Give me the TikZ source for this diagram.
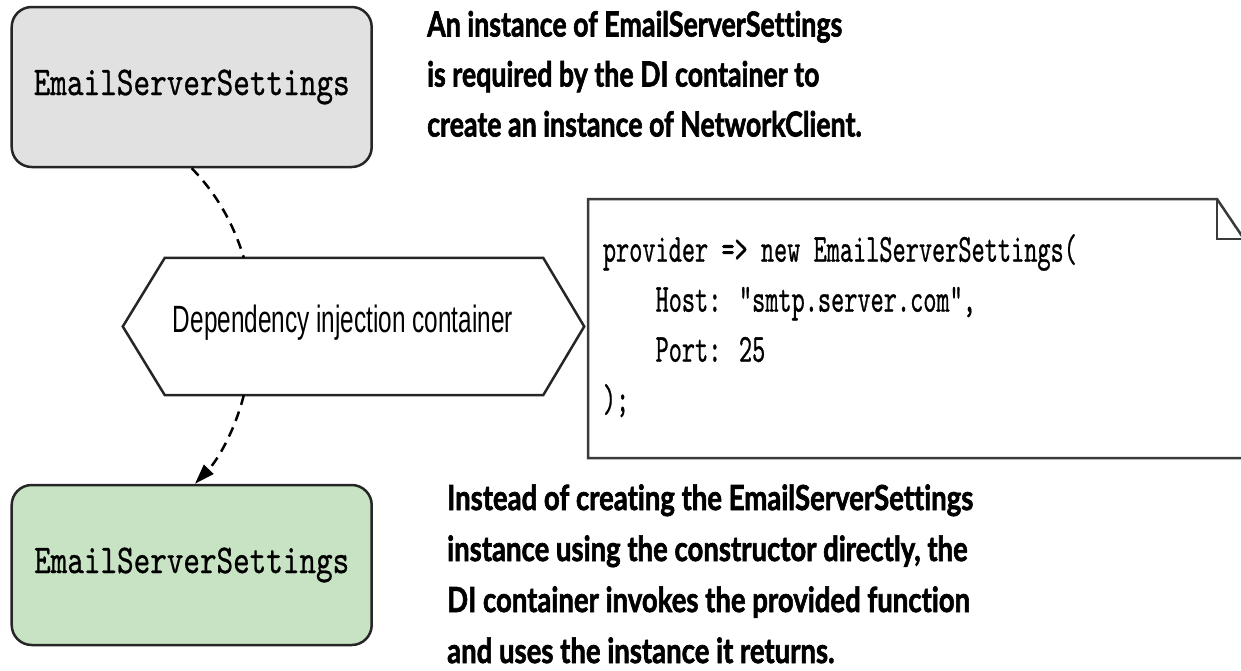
\documentclass[tikz,border=0pt]{standalone}
\usepackage{fontspec}
\usepackage{graphicx}
\usetikzlibrary{arrows.meta}
\newfontfamily\annfont{Lato}[Ligatures=NoCommon, BoldFeatures={FakeBold=2}]
\newfontfamily\hexfont{Liberation Sans}
\newfontfamily\codefont{lmmono10-regular.otf}[FakeBold=0.8]
\definecolor{boxgray}{HTML}{E1E1E1}
\definecolor{boxgreen}{HTML}{C8E3C4}
\definecolor{edgedark}{HTML}{262626}
\definecolor{codeedge}{HTML}{3A3A3A}
\newcommand\annstyle{\annfont\bfseries\fontsize{34.5}{50}\selectfont}
\newcommand\annstyleb{\annfont\bfseries\fontsize{34.5}{51}\selectfont}
\newcommand\boxstyle{\codefont\fontsize{40.9}{45}\selectfont}
\newcommand\codestyle{\codefont\fontsize{39.8}{50}\selectfont}
\newcommand\hexstyle{\hexfont\fontsize{38}{40}\selectfont}
\newlength\mymeasure
\AtBeginDocument{%
\settowidth\mymeasure{\annstyle An instance of EmailServerSettings}%
\pgfmathsetmacro\topsx{415pt/\mymeasure}%
\settowidth\mymeasure{\annstyleb Instead of creating the EmailServerSettings}%
\pgfmathsetmacro\botsx{526pt/\mymeasure}%
\settowidth\mymeasure{\codestyle provider => new EmailServerSettings(}%
\pgfmathsetmacro\codesx{474pt/\mymeasure}%
}
\tikzset{
  classbox/.style={draw=edgedark, line width=2.5pt, rounded corners=20pt,
    minimum width=360pt, minimum height=160pt, inner sep=0pt},
  hexbox/.style={minimum width=461pt, minimum height=137pt, inner sep=0pt},
  outline/.style={draw=edgedark, line width=2.5pt, line join=miter},
  depline/.style={draw=black, line width=2.5pt, dash pattern=on 10pt off 7pt},
  plaintext/.style={inner sep=0pt, anchor=base west}
}
\begin{document}
\begin{tikzpicture}[x=1pt,y=-1pt]
\useasboundingbox (0,0) rectangle (1241,670);
\clip (0,0) rectangle (1241,670);

% boxes
\node[classbox, fill=boxgray] (top) at (191.7,87) {\resizebox{316pt}{\height}{\boxstyle EmailServerSettings}};
\node[classbox, fill=boxgreen] (bot) at (191.7,565) {\resizebox{315pt}{\height}{\boxstyle EmailServerSettings}};

% hexagon
\node[hexbox] (hex) at (353.5,326.5) {};
\draw[outline] (hex.west) -- ([xshift=42pt]hex.north west) -- ([xshift=-41pt]hex.north east)
  -- (hex.east) -- ([xshift=-41pt]hex.south east) -- ([xshift=42pt]hex.south west) -- cycle;
\node[plaintext] (hexlabel) at (172.7,332.3) {\resizebox{340pt}{\height}{\hexstyle Dependency injection container}};

% code note
\draw[draw=codeedge, line width=2.5pt, line join=miter] (588,199) -- (1217,199) -- (1244,239) -- (1244,458) -- (588,458) -- cycle;
\draw[draw=codeedge, line width=2.5pt, line join=miter] (1217,199) -- (1217,239) -- (1244,239);
\node[plaintext] (code) at (602.7,261.7) {\scalebox{\codesx}[1]{\codestyle\begin{tabular}[t]{@{}l@{}}
provider => new EmailServerSettings(\\
\hphantom{xxxx}Host: "smtp.server.com",\\
\hphantom{xxxx}Port: 25\\
);
\end{tabular}}};

% annotations
\node[plaintext] (note1) at (427,36.5) {\scalebox{\topsx}[1]{\annstyle\begin{tabular}[t]{@{}l@{}}
An instance of EmailServerSettings\\
is required by the DI container to\\
create an instance of NetworkClient.
\end{tabular}}};
\node[plaintext] (note2) at (447,510) {\scalebox{\botsx}[1]{\annstyleb\begin{tabular}[t]{@{}l@{}}
Instead of creating the EmailServerSettings\\
instance using the constructor directly, the\\
DI container invokes the provided function\\
and uses the instance it returns.
\end{tabular}}};

% connectors
\draw[depline] (top.south) .. controls (216.2,193.3) and (233.6,223.7) .. ([xshift=121pt]hex.north west);
\draw[depline, -{Triangle[length=20pt,width=13pt]}] ([xshift=121pt]hex.south west) .. controls (235.1,429.4) and (218.7,458.8) .. ([xshift=3.3pt]bot.north);
\end{tikzpicture}
\end{document}
